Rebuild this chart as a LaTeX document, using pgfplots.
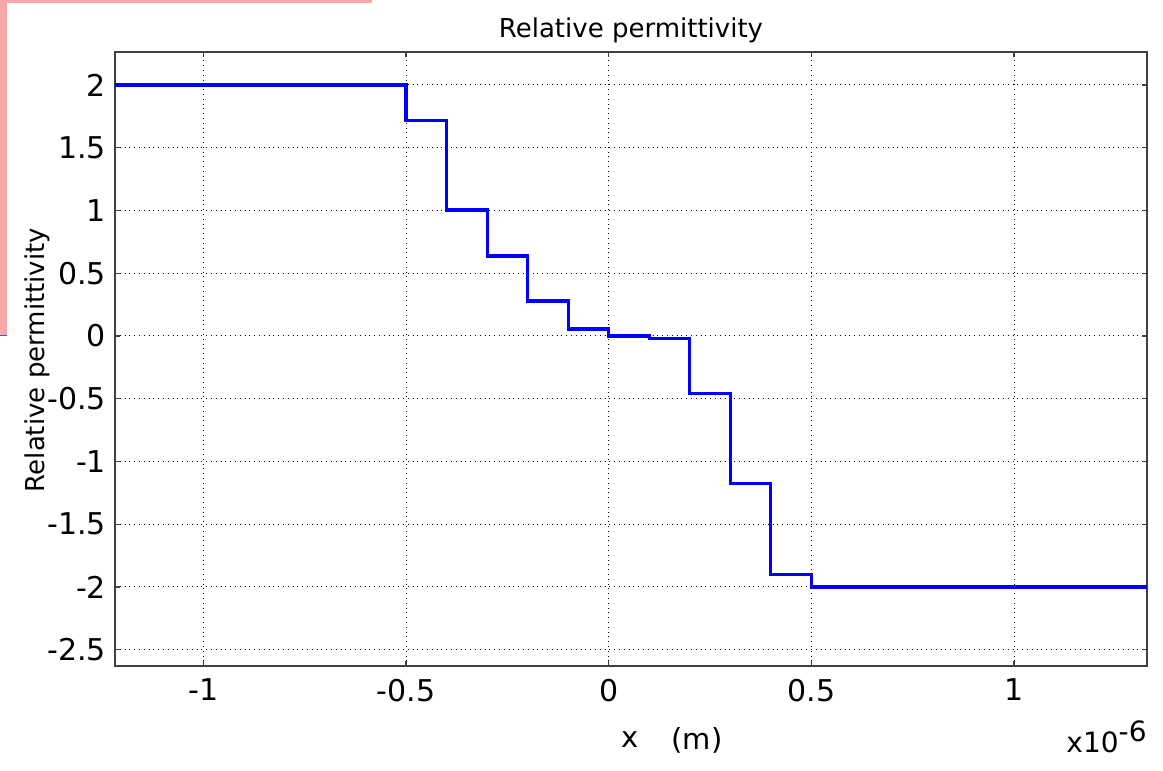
\documentclass[border=0pt]{standalone}
\usepackage{fontspec}
\setmainfont{DejaVu Sans}
\usepackage{pgfplots}
\pgfplotsset{compat=1.18}

\definecolor{edgepink}{RGB}{247,168,168}
\definecolor{frame}{RGB}{64,64,64}

% step values of the permittivity, x in units of 1e-6 m
\pgfplotstableread{
x       eps
-1.218  2.0
-0.5    1.72
-0.4    1.004
-0.3    0.637
-0.2    0.279
-0.1    0.055
0.0     0.0
0.1     -0.02
0.2     -0.457
0.3     -1.174
0.4     -1.904
0.5     -2.0
1.328   -2.0
}\epsdata

\begin{document}
\begin{tikzpicture}
% page is 1163 x 771 px, 1 px = 0.5pt
\path[use as bounding box] (0,0) rectangle (581.5pt,385.5pt);
% screenshot remnants
\fill[edgepink] (0pt,385.5pt) rectangle (3.5pt,218pt);
\fill[edgepink] (0pt,385.5pt) rectangle (186pt,384pt);
\draw[blue!70,line width=0.5pt] (0pt,217.5pt) -- (3.5pt,217.5pt);

\begin{axis}[
    at={(57.5pt,52.5pt)}, anchor=south west,
    scale only axis,
    width=516pt, height=307pt,
    xmin=-1.218, xmax=1.328,
    ymin=-2.63, ymax=2.263,
    xtick={-1,-0.5,0,0.5,1},
    ytick={-2.5,-2,-1.5,-1,-0.5,0,0.5,1,1.5,2},
    /pgf/number format/assume math mode=true,
    tick label style={font=\fontsize{15pt}{15pt}\selectfont},
    xticklabel style={yshift=-3pt},
    yticklabel style={xshift=-1pt},
    tick align=inside,
    major tick length=2.5pt,
    tick style={frame,line width=0.6pt},
    axis line style={frame,line width=1pt},
    grid=major,
    grid style={black,dotted,line width=0.5pt},
]
\addplot[const plot mark left, blue, line width=1.6pt] table[x=x,y=eps] {\epsdata};
\end{axis}

% titles and labels
\node[font=\fontsize{13pt}{13pt}\selectfont] at (315.5pt,370.5pt) {Relative permittivity};
\node[font=\fontsize{13pt}{13pt}\selectfont, rotate=90] at (18.5pt,205.5pt) {Relative permittivity};
\node[font=\fontsize{14.5pt}{14.5pt}\selectfont] at (315pt,15.5pt) {x};
\node[font=\fontsize{14.5pt}{14.5pt}\selectfont] at (348.5pt,15.5pt) {(m)};
\node[font=\fontsize{14pt}{14pt}\selectfont, anchor=base east, inner sep=0pt] at (573.5pt,9pt) {x10\raisebox{0.75ex}{-6}};
\end{tikzpicture}
\end{document}
